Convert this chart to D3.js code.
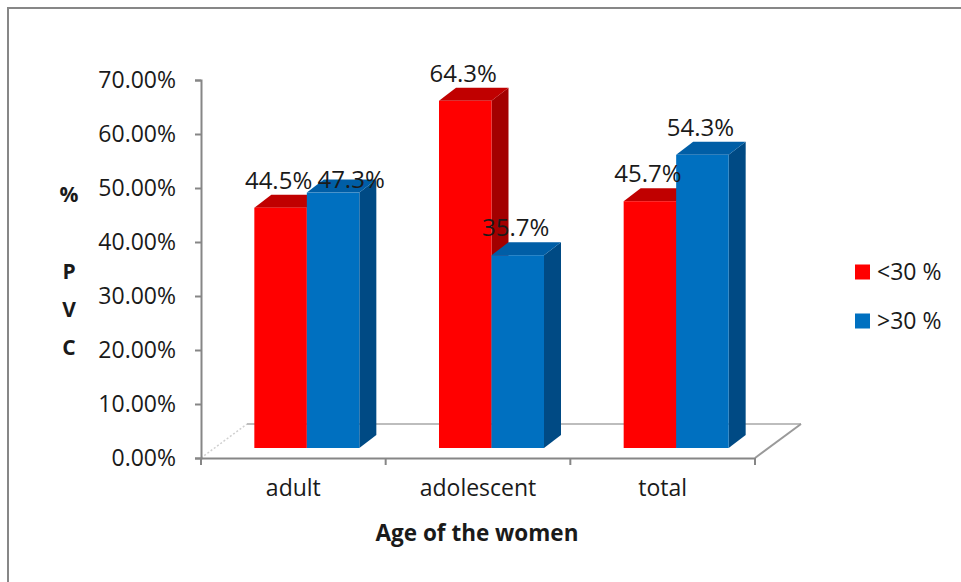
<!DOCTYPE html>
<html><head><meta charset="utf-8">
<script src="https://cdn.jsdelivr.net/npm/d3@7"></script>
<style>
html,body{margin:0;padding:0;background:#fff;}
svg{display:block;}
text{font-family:"Open Sans","Noto Sans",sans-serif;fill:#1a1a1a;}
</style></head>
<body>
<svg id="chart" width="961" height="582"></svg>
<script>
const categories = ["adult", "adolescent", "total"];
const seriesNames = ["<30 %", ">30 %"];
const under30 = [0.445, 0.643, 0.457];
const over30 = [0.473, 0.357, 0.543];
const yTicks = [0, 0.1, 0.2, 0.3, 0.4, 0.5, 0.6, 0.7];
const yTitle = ["%", "P", "V", "C"];
const xTitle = "Age of the women";

const svg = d3.select("#chart");
const W = 961, H = 582;
const FS = 23;

// frame
svg.append("rect").attr("x", 8).attr("y", 8).attr("width", W + 20).attr("height", H + 20)
  .attr("fill", "none").attr("stroke", "#878787").attr("stroke-width", 2);

const left = 201, right = 755, y0 = 458, yTop = 80;
const y = d3.scaleLinear().domain([0, 0.7]).range([y0, yTop]);
const x = d3.scaleBand().domain(categories).range([left, right]);
const inner = d3.scaleBand().domain([0, 1]).range([0, 105]);

// floor
const fdx = 46, fdy = -34;
svg.append("line").attr("x1", left).attr("y1", y0).attr("x2", left + fdx).attr("y2", y0 + fdy)
  .attr("stroke", "#d0d0d0").attr("stroke-width", 1.5).attr("stroke-dasharray", "2,2");
svg.append("line").attr("x1", left + fdx).attr("y1", y0 + fdy).attr("x2", right + fdx).attr("y2", y0 + fdy)
  .attr("stroke", "#bdbdbd").attr("stroke-width", 2);
svg.append("line").attr("x1", right).attr("y1", y0).attr("x2", right + fdx).attr("y2", y0 + fdy)
  .attr("stroke", "#9a9a9a").attr("stroke-width", 2);

// axes
const yAxis = d3.axisLeft(y).tickValues(yTicks).tickSize(6).tickPadding(19)
  .tickFormat(d => (d * 100).toFixed(2) + "%");
const gy = svg.append("g").attr("transform", `translate(${left},0)`).call(yAxis);
gy.select(".domain").attr("stroke", "#868686").attr("stroke-width", 2);
gy.selectAll(".tick line").attr("stroke", "#868686").attr("stroke-width", 2);
gy.selectAll(".tick text").attr("font-size", FS).attr("font-family", "'Open Sans',sans-serif").attr("fill", "#1a1a1a");

const xAxis = d3.axisBottom(x).tickSize(0).tickPadding(22);
const gx = svg.append("g").attr("transform", `translate(0,${y0})`).call(xAxis);
gx.select(".domain").attr("stroke", "#868686").attr("stroke-width", 2);
gx.selectAll(".tick text").attr("font-size", FS).attr("font-family", "'Open Sans',sans-serif").attr("fill", "#1a1a1a");
// x ticks at band boundaries
const bounds = categories.map(c => x(c)).concat([x(categories[categories.length - 1]) + x.bandwidth()]);
svg.selectAll(".xb").data(bounds).enter().append("line")
  .attr("x1", d => d).attr("x2", d => d).attr("y1", y0).attr("y2", y0 + 7)
  .attr("stroke", "#868686").attr("stroke-width", 2);

// bars
const bx = 13.5, by = -10; // bar front position in depth
const ddx = 17, ddy = -13;  // bar depth
const colors = [
  {front: "#ff0000", top: "#c00000", side: "#a30000"},
  {front: "#0070c0", top: "#005ea6", side: "#004a84"}
];
const series = [under30, over30];
const labelNudge = {"0-1": [20, 14]};

categories.forEach((c, i) => {
  const cx = x(c) + x.bandwidth() / 2 + bx;
  const start = cx - 52.5;
  series.forEach((vals, s) => {
    const v = vals[i];
    const x0 = start + inner(s), x1 = x0 + inner.bandwidth();
    const yb = y(0) + by, yt = y(v) + by;
    const g = svg.append("g");
    g.append("polygon").attr("points", [[x1, yb], [x1 + ddx, yb + ddy], [x1 + ddx, yt + ddy], [x1, yt]].join(" "))
      .attr("fill", colors[s].side);
    g.append("polygon").attr("points", [[x0, yt], [x1, yt], [x1 + ddx, yt + ddy], [x0 + ddx, yt + ddy]].join(" "))
      .attr("fill", colors[s].top);
    g.append("rect").attr("x", x0).attr("y", yt).attr("width", x1 - x0).attr("height", yb - yt)
      .attr("fill", colors[s].front);
  });
});
// labels
categories.forEach((c, i) => {
  const cx = x(c) + x.bandwidth() / 2 + bx;
  const start = cx - 52.5;
  series.forEach((vals, s) => {
    const v = vals[i];
    const n = labelNudge[i + "-" + s] || [0, 0];
    svg.append("text")
      .attr("x", start + inner(s) + inner.bandwidth() / 2 - 2 + n[0])
      .attr("y", y(v) + by - 19 + n[1])
      .attr("text-anchor", "middle").attr("font-size", FS + 1)
      .text((v * 100).toFixed(1) + "%");
  });
});

// y title
const yt = [195, 272, 310, 348];
yTitle.forEach((t, i) => {
  svg.append("text").attr("x", 69).attr("y", yt[i]).attr("dy", "0.35em")
    .attr("text-anchor", "middle").attr("font-size", 21).attr("font-weight", "bold").text(t);
});
// x title
svg.append("text").attr("x", 477).attr("y", 541).attr("text-anchor", "middle")
  .attr("font-size", 22.5).attr("font-weight", "bold").text(xTitle);

// legend
seriesNames.forEach((n, i) => {
  const ly = 272 + i * 49;
  svg.append("rect").attr("x", 855).attr("y", ly - 7.5).attr("width", 15).attr("height", 15)
    .attr("fill", colors[i].front);
  svg.append("text").attr("x", 877).attr("y", ly).attr("dy", "0.35em").attr("font-size", FS).text(n);
});
</script>
</body></html>
